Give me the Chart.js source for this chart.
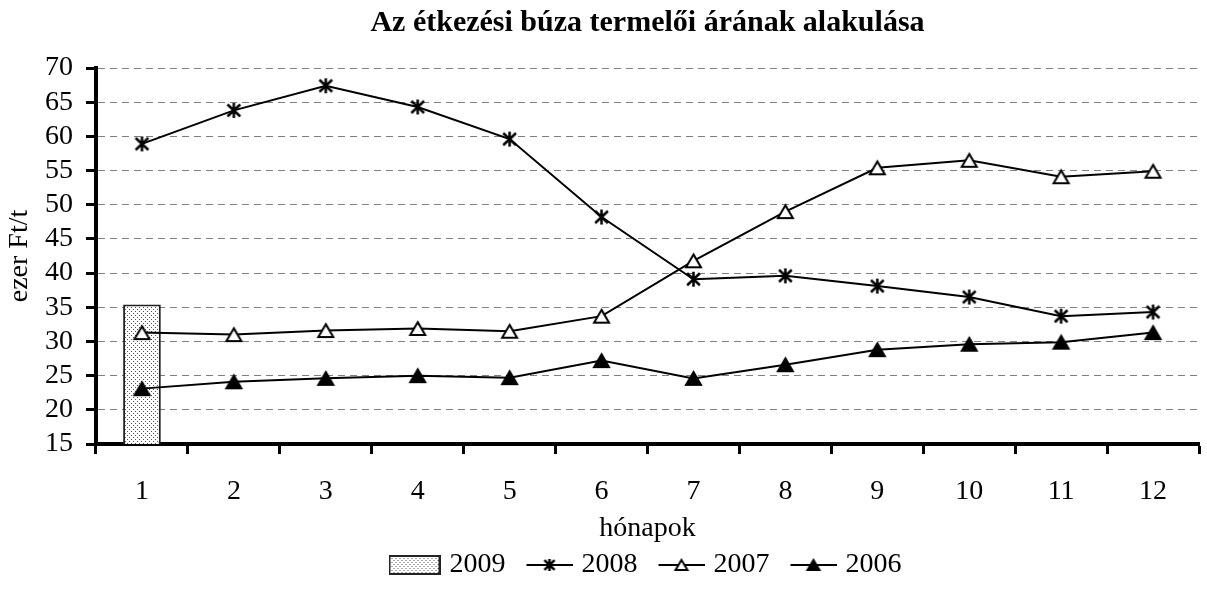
<!DOCTYPE html>
<html>
<head>
<meta charset="utf-8">
<script src="https://cdn.jsdelivr.net/npm/chart.js@4/dist/chart.umd.min.js"></script>
<style>
  body { margin: 0; background: #fff; }
  .wrap { width: 1207px; height: 590px; position: relative; }
</style>
</head>
<body>
<div class="wrap"><canvas id="chart"></canvas></div>
<script>
// months on the x axis
const months = ['1', '2', '3', '4', '5', '6', '7', '8', '9', '10', '11', '12'];
// producer price of wheat, thousand Ft/t
const wheat2009 = [35.4, null, null, null, null, null, null, null, null, null, null, null];
const wheat2008 = [58.9, 63.8, 67.4, 64.3, 59.6, 48.2, 39.1, 39.6, 38.1, 36.5, 33.7, 34.3];
const wheat2007 = [31.3, 31.0, 31.6, 31.9, 31.5, 33.7, 41.8, 49.0, 55.4, 56.5, 54.1, 54.9];
const wheat2006 = [23.1, 24.1, 24.6, 25.0, 24.7, 27.2, 24.6, 26.6, 28.8, 29.6, 29.9, 31.3];
// y axis range
const yMin = 15, yMax = 70, yStep = 5;

const serif = "'Liberation Serif', 'Times New Roman', serif";

// dotted fill for the 2009 bar
const dotPattern = () => {
	const t = document.createElement('canvas');
	t.width = 4; t.height = 4;
	const g = t.getContext('2d');
	g.fillStyle = '#fff';
	g.fillRect(0, 0, 4, 4);
	g.fillStyle = '#555';
	g.fillRect(1, 1, 1, 1);
	g.fillRect(3, 3, 1, 1);
	return g.createPattern(t, 'repeat');
};

// markers: 'star' (x with vertical bar), 'tri' (open), 'trif' (filled)
const marker = (kind, size, lineW) => {
	const w = lineW || size + 6, h = size + 6;
	const c = document.createElement('canvas');
	c.width = w; c.height = h;
	const g = c.getContext('2d');
	const cx = lineW ? w / 2 + 3 : w / 2, cy = h / 2, r = size / 2;
	g.strokeStyle = '#000';
	g.lineWidth = 2;
	if (lineW) {
		g.beginPath(); g.moveTo(6, cy); g.lineTo(w, cy); g.stroke();
	}
	if (kind === 'star') {
		g.lineWidth = 2.5;
		g.beginPath();
		g.moveTo(cx - r * 0.85, cy - r * 0.8); g.lineTo(cx + r * 0.85, cy + r * 0.8);
		g.moveTo(cx + r * 0.85, cy - r * 0.8); g.lineTo(cx - r * 0.85, cy + r * 0.8);
		g.moveTo(cx, cy - r); g.lineTo(cx, cy + r);
		g.stroke();
	} else {
		g.beginPath();
		g.moveTo(cx, cy - r * 0.85);
		g.lineTo(cx + r, cy + r * 0.85);
		g.lineTo(cx - r, cy + r * 0.85);
		g.closePath();
		g.fillStyle = kind === 'trif' ? '#000' : '#fff';
		g.fill();
		g.stroke();
	}
	return c;
};

const swatch = () => {
	const c = document.createElement('canvas');
	c.width = 52; c.height = 20;
	const g = c.getContext('2d');
	g.fillStyle = dotPattern();
	g.fillRect(1, 1, 50, 18);
	g.strokeStyle = '#222';
	g.lineWidth = 2;
	g.strokeRect(1, 1, 50, 18);
	return c;
};

const legendIcons = [swatch(), marker('star', 12, 52), marker('tri', 12, 52), marker('trif', 12, 52)];

const ctx = document.getElementById('chart');
const chart = new Chart(ctx, {
	type: 'line',
	data: {
		labels: months,
		datasets: [
			{
				type: 'bar', label: '2009', data: wheat2009, order: 4,
				backgroundColor: dotPattern(), borderColor: '#222', borderWidth: 2,
				barPercentage: 0.41, categoryPercentage: 1,
			},
			{
				label: '2008', data: wheat2008, order: 1,
				borderColor: '#000', borderWidth: 2, pointStyle: marker('star', 15), pointRadius: 6,
			},
			{
				label: '2007', data: wheat2007, order: 2,
				borderColor: '#000', borderWidth: 2, pointStyle: marker('tri', 15), pointRadius: 6,
			},
			{
				label: '2006', data: wheat2006, order: 3,
				borderColor: '#000', borderWidth: 2, pointStyle: marker('trif', 15), pointRadius: 6,
			},
		],
	},
	options: {
		responsive: true,
		maintainAspectRatio: false,
		animation: false,
		layout: { padding: { left: 0, right: 1, top: 0, bottom: 1 } },
		scales: {
			x: {
				offset: true,
				grid: { offset: true, drawOnChartArea: false, tickLength: 10, tickWidth: 3, tickColor: '#000' },
				border: { color: '#000', width: 4 },
				ticks: { color: '#000', padding: 21, font: { family: serif, size: 28 } },
				title: { display: true, text: 'hónapok', color: '#000', font: { family: serif, size: 28 }, padding: { top: 0, bottom: -14 } },
				afterFit: (s) => { s.height = 87; },
			},
			y: {
				min: yMin, max: yMax,
				grid: { color: '#808080', lineWidth: 1, tickLength: 10, tickWidth: 3, tickColor: '#000' },
				border: { color: '#000', width: 4, dash: [7, 5] },
				ticks: { stepSize: yStep, autoSkip: false, color: '#000', padding: 13, font: { family: serif, size: 28 } },
				title: { display: true, text: 'ezer Ft/t', color: '#000', font: { family: serif, size: 28 }, padding: { top: 3, bottom: 0 } },
				afterFit: (s) => { s.width = 96; },
			},
		},
		plugins: {
			tooltip: { enabled: false },
			title: {
				display: true, fullSize: false,
				text: 'Az étkezési búza termelői árának alakulása',
				color: '#000',
				font: { family: serif, size: 30, weight: 'bold' },
				padding: { top: 5, bottom: 27 },
			},
			legend: {
				position: 'bottom', fullSize: false,
				labels: {
					usePointStyle: true, pointStyleWidth: 42, padding: 20,
					color: '#000', font: { family: serif, size: 28 },
					generateLabels: (c) => c.data.datasets.map((ds, i) => ({
						text: ds.label, datasetIndex: i, pointStyle: legendIcons[i],
						hidden: false, lineWidth: 0, fontColor: '#000',
						strokeStyle: 'transparent', fillStyle: 'transparent',
					})),
				},
			},
		},
	},
});
</script>
</body>
</html>
